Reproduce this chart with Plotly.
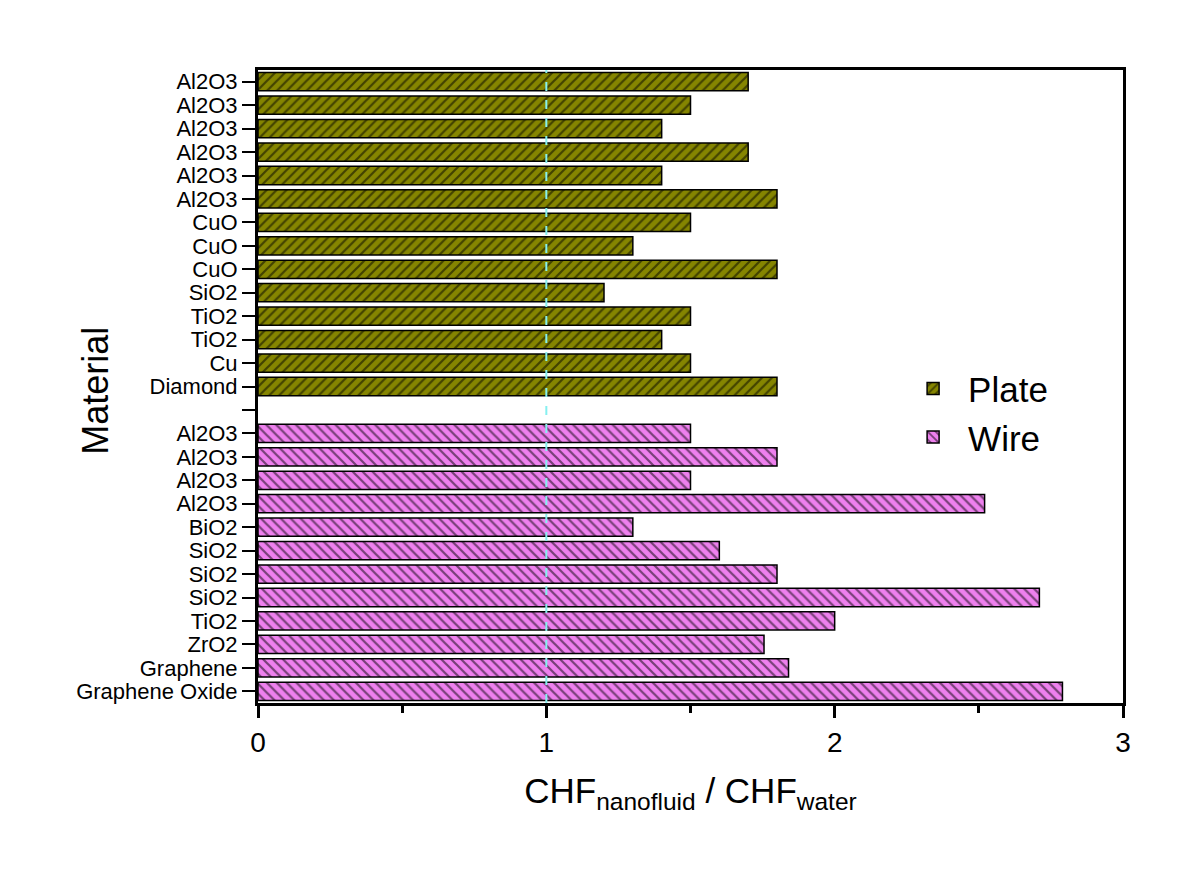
import plotly.graph_objects as go

plate_labels = ["Al2O3", "Al2O3", "Al2O3", "Al2O3", "Al2O3", "Al2O3", "CuO", "CuO",
                "CuO", "SiO2", "TiO2", "TiO2", "Cu", "Diamond"]
plate_values = [1.70, 1.50, 1.40, 1.70, 1.40, 1.80, 1.50, 1.30, 1.80, 1.20, 1.50, 1.40, 1.50, 1.80]

wire_labels = ["Al2O3", "Al2O3", "Al2O3", "Al2O3", "BiO2", "SiO2", "SiO2", "SiO2",
               "TiO2", "ZrO2", "Graphene", "Graphene Oxide"]
wire_values = [1.50, 1.80, 1.50, 2.52, 1.30, 1.60, 1.80, 2.71, 2.00, 1.755, 1.84, 2.79]

x_ticks = [0, 1, 2, 3]
x_minor_ticks = [0.5, 1.5, 2.5]
ref_value = 1.0

FONT = "Liberation Sans, Arial, sans-serif"

# positions: plate rows, one empty gap row, then wire rows
plate_pos = list(range(len(plate_labels)))
gap_pos = len(plate_labels)
wire_pos = [gap_pos + 1 + i for i in range(len(wire_labels))]
all_pos = plate_pos + [gap_pos] + wire_pos
all_text = plate_labels + [" "] + wire_labels

fig = go.Figure()
fig.add_trace(go.Bar(
    x=plate_values, y=plate_pos, orientation="h", name="Plate", width=0.78,
    marker=dict(color="#858500", line=dict(color="black", width=1.5),
                pattern=dict(shape="/", fgcolor="black", bgcolor="#858500",
                             size=7, solidity=0.32, fillmode="overlay")),
))
fig.add_trace(go.Bar(
    x=wire_values, y=wire_pos, orientation="h", name="Wire", width=0.78,
    marker=dict(color="#EE80EE", line=dict(color="black", width=1.5),
                pattern=dict(shape="\\", fgcolor="black", bgcolor="#EE80EE",
                             size=7, solidity=0.32, fillmode="overlay")),
))

fig.add_shape(type="line", xref="x", yref="paper", x0=ref_value, x1=ref_value, y0=0, y1=1,
              line=dict(color="#86F0F0", width=2, dash="dash"), layer="above")

fig.add_annotation(text="Material", xref="paper", yref="paper", x=-0.188, y=0.494,
                   textangle=-90, showarrow=False, font=dict(size=36, family=FONT),
                   xanchor="center", yanchor="middle")

yrange = [len(all_pos) - 0.5, -0.5]

fig.update_layout(
    width=1200, height=892,
    paper_bgcolor="white", plot_bgcolor="white",
    margin=dict(l=250, r=85, t=62, b=197),
    font=dict(family=FONT, color="black"),
    showlegend=True,
    legend=dict(x=0.74, y=0.543, xanchor="left", yanchor="top",
                font=dict(size=35, family=FONT), bgcolor="rgba(0,0,0,0)",
                itemwidth=60),
    bargap=0.2,
    xaxis=dict(range=[0, 3], tickvals=x_ticks, ticks="outside", ticklen=12, tickwidth=2.5,
               tickcolor="black", showline=True, linewidth=3, linecolor="black", mirror=True,
               showgrid=False, zeroline=False, tickfont=dict(size=28),
               minor=dict(tickvals=x_minor_ticks, ticks="outside", ticklen=7,
                          tickwidth=2.5, tickcolor="black", showgrid=False),
               title=dict(text="CHF<sub>nanofluid</sub> / CHF<sub>water</sub>",
                          font=dict(size=35), standoff=22)),
    yaxis=dict(range=yrange, tickvals=all_pos, ticktext=all_text, ticks="outside",
               ticklen=13, tickwidth=2, tickcolor="black", showline=True, linewidth=3,
               linecolor="black", mirror=True, showgrid=False, zeroline=False,
               tickfont=dict(size=22), automargin=False),
    yaxis2=dict(range=yrange, overlaying="y", anchor="x", side="left", tickvals=all_pos,
                ticks="inside", ticklen=12, tickwidth=2, tickcolor="black",
                showticklabels=False, showgrid=False, zeroline=False, showline=False),
)

fig.write_html("out.html")
